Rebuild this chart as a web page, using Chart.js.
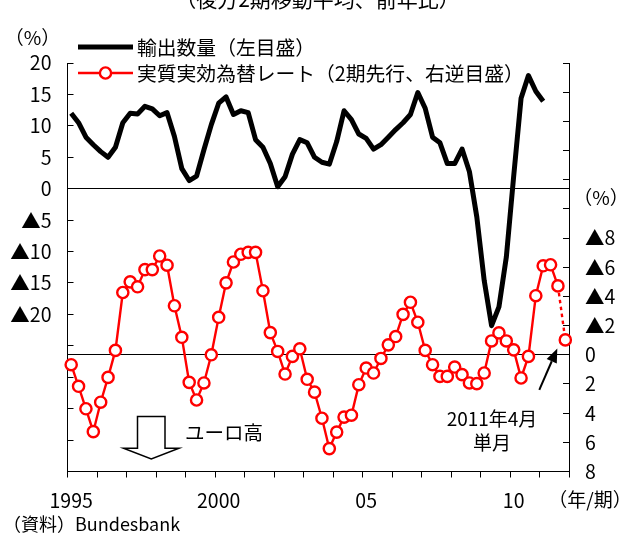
<!DOCTYPE html>
<html lang="ja">
<head>
<meta charset="utf-8">
<title>輸出数量と実質実効為替レート</title>
<script src="https://cdn.jsdelivr.net/npm/chart.js@4/dist/chart.umd.min.js"></script>
<style>
  html, body { margin: 0; padding: 0; background: #fff; }
  #wrap { width: 633px; height: 536px; position: relative; }
  canvas { display: block; }
</style>
</head>
<body>
<div id="wrap"><canvas id="chart" width="633" height="536"></canvas></div>
<script>
// Quarterly categories, 1995Q1 .. 2011Q4
const years = [1995, 1996, 1997, 1998, 1999, 2000, 2001, 2002, 2003,
               2004, 2005, 2006, 2007, 2008, 2009, 2010, 2011];
const quarterLabels = [];
years.forEach(y => { ['Q1', 'Q2', 'Q3', 'Q4'].forEach(q => quarterLabels.push(y + q)); });

// Year ticks shown under the axis
const tickYears = [1995, 2000, 2005, 2010];
const tickTexts = ['1995', '2000', '05', '10'];

// 輸出数量 (後方2期移動平均, 前年比 %), 1995Q1 .. 2011Q1
const exportVolume = [
  12.0, 10.5, 8.2, 7.0, 5.9, 5.0, 6.6, 10.5,
  12.0, 11.9, 13.1, 12.7, 11.6, 12.1, 8.3, 3.2,
  1.3, 2.0, 6.2, 10.2, 13.6, 14.6, 11.8, 12.4,
  12.1, 7.8, 6.6, 4.0, 0.3, 1.9, 5.5, 7.8,
  7.3, 5.0, 4.2, 3.9, 7.5, 12.4, 11.0, 8.7,
  8.0, 6.3, 7.0, 8.2, 9.4, 10.5, 11.8, 15.3,
  12.8, 8.2, 7.3, 4.0, 4.0, 6.3, 2.7, -4.5,
  -14.6, -21.8, -18.8, -10.9, 2.0, 14.4, 18.0, 15.5,
  13.9
];

// 実質実効為替レート (前年比 %, 2期先行で表示), last point = 2011年4月単月
const realEffectiveRate = [
  0.68, 2.16, 3.7, 5.27, 3.25, 1.55, -0.3, -4.27,
  -5.0, -4.66, -5.84, -5.84, -6.77, -6.14, -3.36, -1.2,
  1.89, 3.1, 1.93, 0.0, -2.57, -4.93, -6.36, -6.89,
  -7.02, -7.02, -4.39, -1.52, -0.23, 1.32, 0.11, -0.41,
  1.68, 2.56, 4.35, 6.43, 5.3, 4.27, 4.14, 2.05,
  0.91, 1.25, 0.25, -0.68, -1.25, -2.77, -3.6, -2.23,
  -0.3, 0.68, 1.48, 1.48, 0.84, 1.36, 1.93, 1.98,
  1.25, -0.95, -1.5, -0.95, -0.34, 1.59, 0.11, -4.05,
  -6.1, -6.17, -4.72, -1.02
];

const FONT = "'Noto Sans CJK JP', 'Noto Sans', sans-serif";
const RED = '#ff0000';
const lastRateIndex = realEffectiveRate.length - 1;

Chart.defaults.font.family = FONT;
Chart.defaults.color = '#000';

function triangleLabel(v, limit) {
  if (v < -limit || v > limit) return '';
  return v < 0 ? '▲' + (-v) : String(v);
}

// Texts, legend and arrows drawn on top of the plot
const decorations = {
  id: 'decorations',
  afterDraw(chart) {
    const c = chart.ctx;
    const ds0 = chart.data.datasets[0];
    const ds1 = chart.data.datasets[1];
    c.save();
    c.fillStyle = '#000';
    c.textBaseline = 'middle';

    // heading (partly above the canvas edge)
    c.font = '21px ' + FONT;
    c.textAlign = 'center';
    c.fillText('（後方2期移動平均、前年比）', 317.5, -1);

    // unit labels
    c.font = '19px ' + FONT;
    c.fillText('（%）', 32.5, 38);
    c.fillText('（%）', 601, 198);
    c.fillText('（年/期）', 590, 500);

    // legend
    c.font = '19.8px ' + FONT;
    c.textAlign = 'left';
    c.strokeStyle = ds0.borderColor;
    c.lineWidth = ds0.borderWidth;
    c.beginPath(); c.moveTo(78, 47); c.lineTo(133, 47); c.stroke();
    c.fillText('輸出数量（左目盛）', 137, 47);

    c.strokeStyle = ds1.borderColor;
    c.lineWidth = ds1.borderWidth;
    c.beginPath(); c.moveTo(78, 73); c.lineTo(133, 73); c.stroke();
    c.beginPath(); c.arc(105.5, 73, ds1.pointRadius, 0, Math.PI * 2);
    c.fillStyle = ds1.pointBackgroundColor; c.fill();
    c.lineWidth = ds1.pointBorderWidth; c.stroke();
    c.fillStyle = '#000';
    c.fillText('実質実効為替レート（2期先行、右逆目盛）', 137, 73);

    // source
    c.font = '18px ' + FONT;
    c.fillText('（資料）Bundesbank', 3, 524);

    // euro appreciation marker
    c.font = '19.5px ' + FONT;
    c.fillText('ユーロ高', 185, 433);
    c.strokeStyle = '#000';
    c.lineWidth = 1.5;
    c.beginPath();
    c.moveTo(137.5, 416.5); c.lineTo(165, 416.5); c.lineTo(165, 448.3);
    c.lineTo(179, 448.3); c.lineTo(151.3, 459); c.lineTo(123.5, 448.3);
    c.lineTo(137.5, 448.3); c.closePath();
    c.stroke();

    // note for the last (monthly) point
    c.textAlign = 'center';
    c.font = '19px ' + FONT;
    c.fillText('2011年4月', 492, 419);
    c.fillText('単月', 492, 443);

    const pt = chart.getDatasetMeta(1).data[lastRateIndex];
    const tipX = pt.x - 8, tipY = pt.y + 8.5;
    const tailX = pt.x - 26, tailY = pt.y + 50;
    const ang = Math.atan2(tipY - tailY, tipX - tailX);
    const hl = 14, hw = 5.5;
    const bx = tipX - hl * Math.cos(ang), by = tipY - hl * Math.sin(ang);
    c.lineWidth = 2;
    c.beginPath(); c.moveTo(tailX, tailY); c.lineTo(bx, by); c.stroke();
    c.beginPath();
    c.moveTo(tipX, tipY);
    c.lineTo(bx + hw * Math.sin(ang), by - hw * Math.cos(ang));
    c.lineTo(bx - hw * Math.sin(ang), by + hw * Math.cos(ang));
    c.closePath(); c.fill();

    c.restore();
  }
};

new Chart(document.getElementById('chart'), {
  type: 'line',
  data: {
    labels: quarterLabels,
    datasets: [
      {
        label: '輸出数量（左目盛）',
        data: exportVolume,
        yAxisID: 'y',
        borderColor: '#000',
        borderWidth: 5,
        pointRadius: 0,
        tension: 0,
        borderJoinStyle: 'round',
        order: 2
      },
      {
        label: '実質実効為替レート（2期先行、右逆目盛）',
        data: realEffectiveRate,
        yAxisID: 'y1',
        borderColor: RED,
        borderWidth: 2.4,
        pointRadius: 5.6,
        pointBorderWidth: 2.4,
        pointBorderColor: RED,
        pointBackgroundColor: '#fff',
        tension: 0,
        segment: {
          borderDash: ctx => ctx.p1DataIndex === lastRateIndex ? [3.5, 3.5] : undefined
        },
        order: 1
      }
    ]
  },
  options: {
    responsive: false,
    devicePixelRatio: 1,
    animation: false,
    events: [],
    layout: { padding: { top: 63, left: 0, right: 0, bottom: 0 } },
    plugins: { legend: { display: false }, tooltip: { enabled: false }, title: { display: false } },
    scales: {
      x: {
        type: 'category',
        offset: true,
        grid: {
          offset: true,
          drawOnChartArea: false,
          drawTicks: true,
          tickLength: 6,
          color: ctx => (ctx.index === undefined || ctx.index % 4 === 0) ? '#000' : 'rgba(0,0,0,0)',
          lineWidth: 1
        },
        border: { display: true, color: '#000', width: 1 },
        ticks: {
          autoSkip: false,
          maxRotation: 0,
          minRotation: 0,
          padding: 11,
          font: { size: 19.5 },
          color: '#000',
          callback: (value, index) => {
            const lab = quarterLabels[index];
            if (!lab.endsWith('Q1')) return '';
            const k = tickYears.indexOf(parseInt(lab, 10));
            return k >= 0 ? tickTexts[k] : '';
          }
        },
        afterFit: s => { s.height = 64.5; }
      },
      y: {
        position: 'left',
        min: -45,
        max: 20,
        grid: {
          drawOnChartArea: true,
          drawTicks: true,
          tickLength: -6,
          color: ctx => (ctx.tick && ctx.tick.value === 0) ? '#000' : 'rgba(0,0,0,0)',
          tickColor: '#000',
          lineWidth: 1
        },
        border: { display: true, color: '#000', width: 1 },
        ticks: {
          stepSize: 5,
          padding: 22,
          font: { size: 19.5 },
          color: '#000',
          callback: v => triangleLabel(v, 20)
        },
        afterFit: s => { s.width = 67.5; }
      },
      y1: {
        position: 'right',
        min: -20,
        max: 8,
        reverse: true,
        grid: {
          drawOnChartArea: true,
          drawTicks: true,
          tickLength: -6,
          color: ctx => (ctx.tick && ctx.tick.value === 0) ? '#000' : 'rgba(0,0,0,0)',
          tickColor: '#000',
          lineWidth: 1
        },
        border: { display: true, color: '#000', width: 1 },
        ticks: {
          stepSize: 2,
          padding: 22,
          font: { size: 19.5 },
          color: '#000',
          callback: v => triangleLabel(v, 8)
        },
        afterFit: s => { s.width = 64; }
      }
    }
  },
  plugins: [decorations]
});
</script>
</body>
</html>
